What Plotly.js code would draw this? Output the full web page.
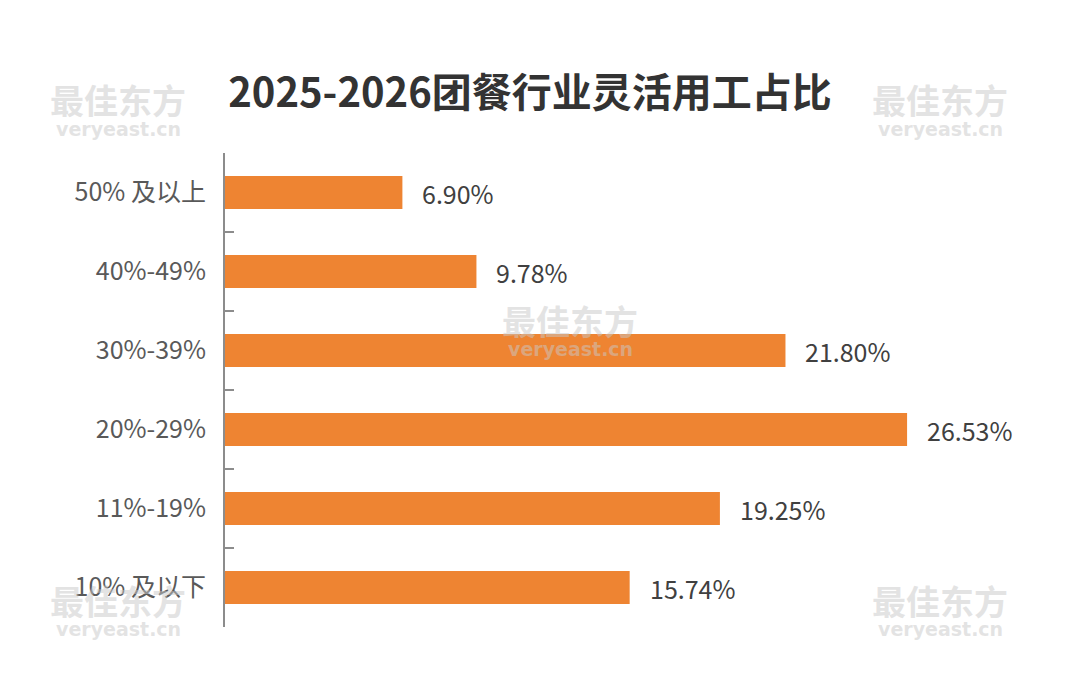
<!DOCTYPE html>
<html><head><meta charset="utf-8">
<script src="https://cdn.plot.ly/plotly-3.0.1.min.js"></script>
<style>html,body{margin:0;padding:0;background:#fff}#chart{width:1080px;height:690px}</style>
</head><body><div id="chart"></div>
<script>
const categories = ["50% 及以上","40%-49%","30%-39%","20%-29%","11%-19%","10% 及以下"];
const values = [6.90, 9.78, 21.80, 26.53, 19.25, 15.74];
const titleText = "2025-2026团餐行业灵活用工占比";
const watermarkMain = "最佳东方";
const watermarkSub = "veryeast.cn";

const FONT = '"Noto Sans CJK SC", "Noto Sans", sans-serif';
// watermark centres in container pixels
const wmPx = [[118,100],[940,100],[570,320],[118,600],[940,600]];
const L=225, R=1040, T=153, B=627;
const annotations = values.map((v,i)=>({
  x: v, y: categories[i], xref:'x', yref:'y', text: v.toFixed(2)+'%',
  showarrow:false, xanchor:'left', yanchor:'middle', xshift:18,
  font:{family:FONT,size:25,color:'#404040'}
}));
wmPx.forEach(p=>{
  const x=(p[0]-L)/(R-L), y=(B-p[1])/(B-T), y2=(B-p[1]-29)/(B-T);
  annotations.push({xref:'paper',yref:'paper',x:x,y:y,text:'<b>'+watermarkMain+'</b>',showarrow:false,
    font:{family:FONT,size:34,color:'rgba(200,200,200,0.5)'},xanchor:'center',yanchor:'middle'});
  annotations.push({xref:'paper',yref:'paper',x:x,y:y2,text:'<b>'+watermarkSub+'</b>',showarrow:false,
    font:{family:'"DejaVu Sans", sans-serif',size:19,color:'rgba(200,200,200,0.5)'},xanchor:'center',yanchor:'middle'});
});

Plotly.newPlot('chart',[{
  type:'bar', orientation:'h', x: values, y: categories,
  marker:{color:'#EE8432'}, hoverinfo:'none'
}],{
  width:1080,height:690,
  paper_bgcolor:'#ffffff',plot_bgcolor:'rgba(0,0,0,0)',
  margin:{l:L,r:1080-R,t:T,b:690-B},
  bargap:0.58,
  title:{text:'<b>'+titleText+'</b>',x:530/1080,xanchor:'center',y:1-93/690,yanchor:'middle',yref:'container',
    font:{family:FONT,size:40,color:'#333333'}},
  xaxis:{range:[0,31.7],visible:false,fixedrange:true},
  yaxis:{type:'category',autorange:'reversed',showline:true,linecolor:'#8c8c8c',linewidth:2,
    ticks:'inside',tickson:'boundaries',ticklen:9,tickwidth:2,tickcolor:'#8c8c8c',
    ticklabelstandoff:12,showgrid:false,zeroline:false,
    tickfont:{family:FONT,size:25,color:'#595959'}},
  annotations:annotations,
  showlegend:false
},{displayModeBar:false,staticPlot:true});
</script></body></html>
